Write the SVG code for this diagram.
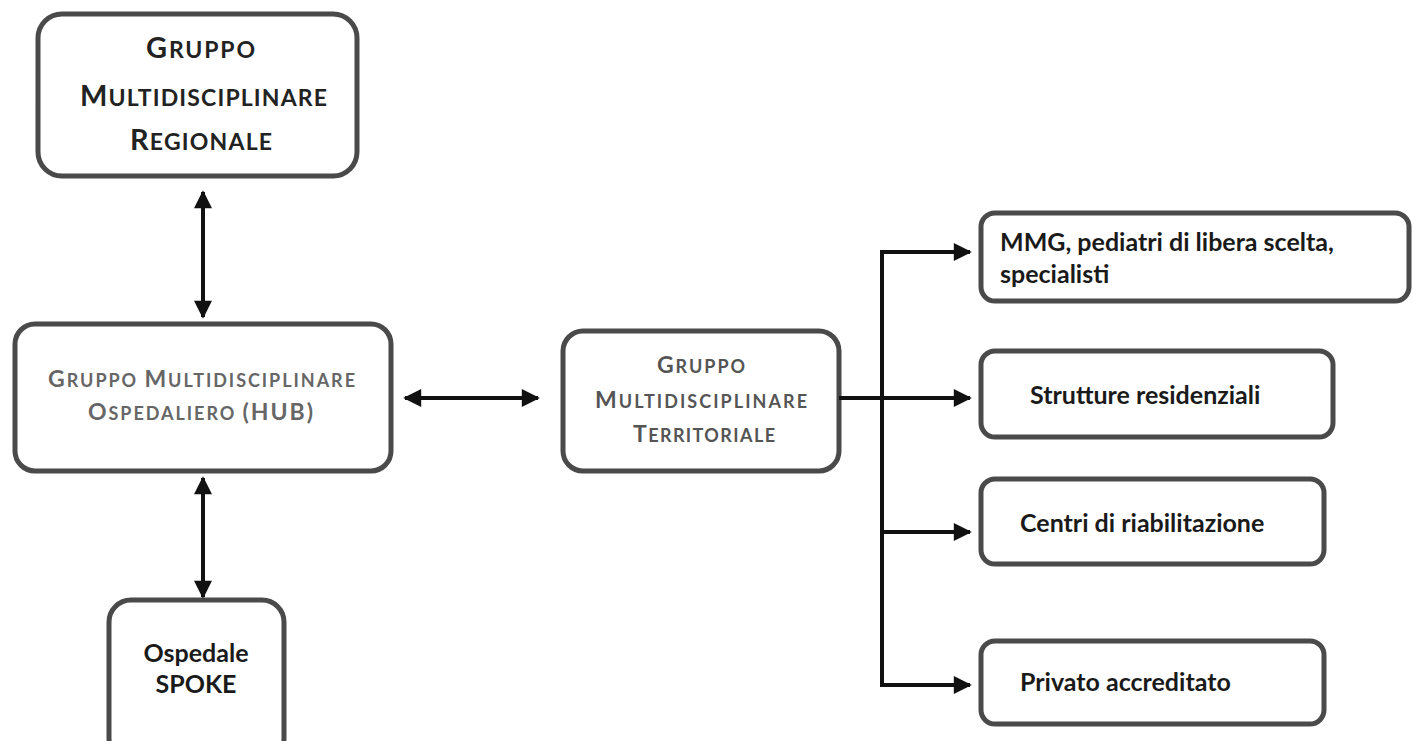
<svg xmlns="http://www.w3.org/2000/svg" width="1413" height="741" viewBox="0 0 1413 741">
<style>
.box{fill:#fff;stroke:#4a4a4a;stroke-width:5}
.line{fill:none;stroke:#111;stroke-width:4}
.t{font-family:Lato,"Open Sans",sans-serif;font-weight:bold}
.sc{fill:#222}
.gr{fill:#666}
.gr2{fill:#555}
.dk{fill:#1a1a1a;font-size:25px}
</style>
<defs>
<marker id="ah" viewBox="0 0 10 10" refX="9" refY="5" markerWidth="5" markerHeight="4.5" orient="auto-start-reverse" markerUnits="strokeWidth">
<path d="M0,0 L10,5 L0,10 z" fill="#111"/>
</marker>
</defs>
<rect width="1413" height="741" fill="#fff"/>
<g id="n-regionale">
<rect class="box" x="38" y="14" width="319" height="162" rx="24" stroke-width="6" stroke="#3a3a3a"/>
<text class="t sc" x="146" y="58" textLength="109" lengthAdjust="spacing"><tspan font-size="29">G</tspan><tspan font-size="23">RUPPO</tspan></text>
<text class="t sc" x="80" y="106" textLength="247" lengthAdjust="spacing"><tspan font-size="29">M</tspan><tspan font-size="23">ULTIDISCIPLINARE</tspan></text>
<text class="t sc" x="130" y="150" textLength="142" lengthAdjust="spacing"><tspan font-size="29">R</tspan><tspan font-size="23">EGIONALE</tspan></text>
</g>
<g id="n-hub">
<rect class="box" x="15" y="324" width="376" height="147" rx="20"/>
<text class="t gr" x="48" y="387" textLength="307" lengthAdjust="spacing"><tspan font-size="23">G</tspan><tspan font-size="18">RUPPO </tspan><tspan font-size="23">M</tspan><tspan font-size="18">ULTIDISCIPLINARE</tspan></text>
<text class="t gr" x="88" y="420" textLength="225" lengthAdjust="spacing"><tspan font-size="23">O</tspan><tspan font-size="18">SPEDALIERO </tspan><tspan font-size="23">(HUB)</tspan></text>
</g>
<g id="n-territoriale">
<rect class="box" x="563" y="331" width="276" height="140" rx="20"/>
<text class="t gr2" x="657" y="373" textLength="88" lengthAdjust="spacing"><tspan font-size="23">G</tspan><tspan font-size="18">RUPPO</tspan></text>
<text class="t gr2" x="595" y="408" textLength="212" lengthAdjust="spacing"><tspan font-size="23">M</tspan><tspan font-size="18">ULTIDISCIPLINARE</tspan></text>
<text class="t gr2" x="633" y="442" textLength="142" lengthAdjust="spacing"><tspan font-size="23">T</tspan><tspan font-size="18">ERRITORIALE</tspan></text>
</g>
<g id="n-spoke">
<rect class="box" x="109" y="600" width="175" height="160" rx="22"/>
<text class="t dk" x="196" y="662" text-anchor="middle">Ospedale</text>
<text class="t dk" x="196" y="693" text-anchor="middle">SPOKE</text>
</g>
<g id="n-mmg">
<rect class="box" x="981" y="213" width="428" height="88" rx="14"/>
<text class="t dk" x="1000" y="251">MMG, pediatri di libera scelta,</text>
<text class="t dk" x="1000" y="283">specialisti</text>
</g>
<g id="n-strutture">
<rect class="box" x="981" y="351" width="352" height="86" rx="14"/>
<text class="t dk" x="1030" y="404">Strutture residenziali</text>
</g>
<g id="n-centri">
<rect class="box" x="981" y="479" width="343" height="85" rx="14"/>
<text class="t dk" x="1020" y="532">Centri di riabilitazione</text>
</g>
<g id="n-privato">
<rect class="box" x="981" y="641" width="343" height="83" rx="14"/>
<text class="t dk" x="1020" y="691">Privato accreditato</text>
</g>
<g id="connectors">
<line class="line" x1="203" y1="192" x2="203" y2="317" marker-start="url(#ah)" marker-end="url(#ah)"/>
<line class="line" x1="405" y1="398" x2="538" y2="398" marker-start="url(#ah)" marker-end="url(#ah)"/>
<line class="line" x1="203" y1="478" x2="203" y2="597" marker-start="url(#ah)" marker-end="url(#ah)"/>
<line class="line" x1="839" y1="398" x2="882" y2="398"/>
<line class="line" x1="882" y1="250" x2="882" y2="687"/>
<line class="line" x1="880" y1="252" x2="970" y2="252" marker-end="url(#ah)"/>
<line class="line" x1="882" y1="398" x2="970" y2="398" marker-end="url(#ah)"/>
<line class="line" x1="882" y1="532" x2="970" y2="532" marker-end="url(#ah)"/>
<line class="line" x1="880" y1="685" x2="970" y2="685" marker-end="url(#ah)"/>
</g>
</svg>
